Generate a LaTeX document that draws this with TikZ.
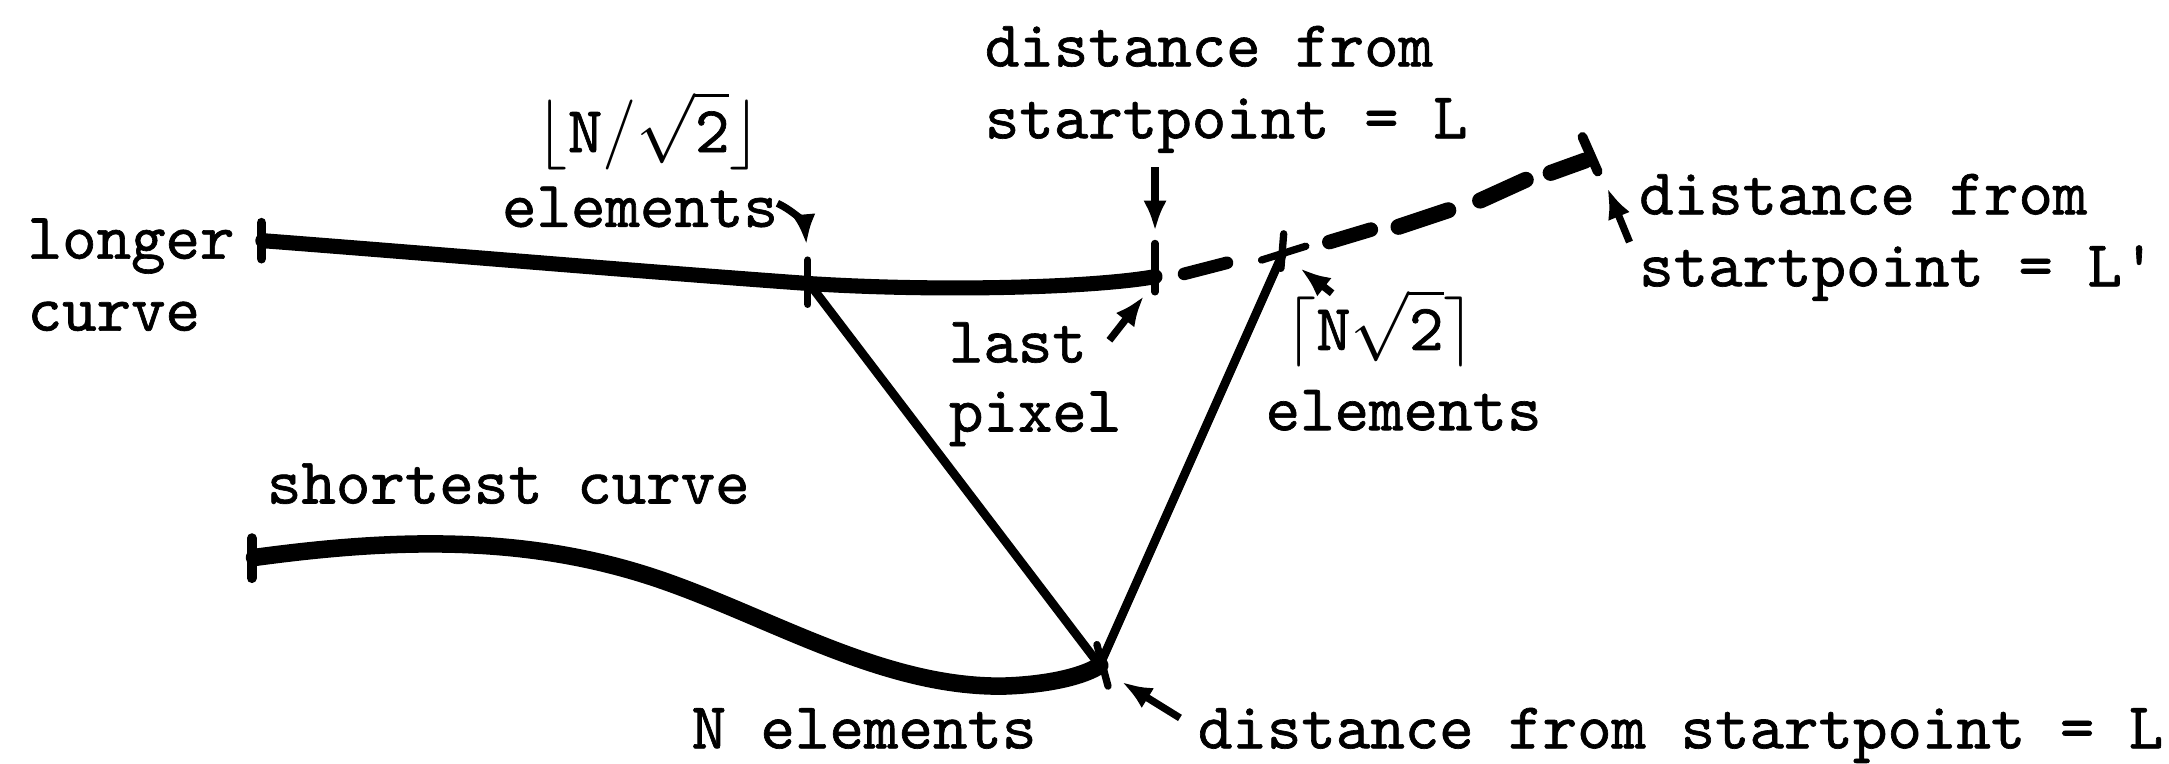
\documentclass[tikz,border=0pt]{standalone}
\usepackage{fontspec}
\setmonofont{lmmono10-regular.otf}[FakeBold=1.0]
\usetikzlibrary{arrows.meta}
\begin{document}
\begin{tikzpicture}[x=0.01cm,y=-0.01cm,
  lbl/.style={anchor=base west,inner sep=0pt,outer sep=0pt,font=\ttfamily\fontsize{13.5}{14.8}\selectfont},
  heavy/.style={line width=3.1pt,line cap=round,line join=round},
  heavier/.style={line width=3.6pt,line cap=round,line join=round},
  thinln/.style={line width=1.8pt,line cap=round,line join=round},
  tickln/.style={line width=1.5pt,line cap=round},
  ptr/.style={line width=1.5pt,-{Latex[length=0.22cm,width=0.17cm]}},
  dsh/.style={line width=3.3pt,line cap=round}]
\useasboundingbox (0,0) rectangle (1568,552);

% key points
\coordinate (A0) at (190,174);
\coordinate (A1) at (585,205);
\coordinate (A2) at (835,200);
\coordinate (S) at (927,184);
\coordinate (D) at (1146,116);
\coordinate (B0) at (184,403);
\coordinate (J) at (795,481);

% longer curve
\draw[heavy] (A0) .. controls (320,184) and (460,196) .. (A1) .. controls (680,211) and (790,208) .. (A2);
\draw[tickln,line width=2pt] (189,161) -- (189,187);
\draw[tickln] (584,188) -- (584,220);
\draw[tickln] (835,176) -- (835,211);

% dashed extension
\draw[line width=2.6pt,line cap=round] (856,198) -- (887,190);
\draw[line width=3pt,line cap=round] (961,175) -- (991,166);
\draw[dsh] (1011,164) -- (1047,152);
\draw[dsh] (1070,145) -- (1103,130);
\draw[dsh] (1121,125) -- (D);
\draw[tickln,line width=2pt] (1144,99) -- (1155,124);

% star
\draw[tickln] (928,169) -- (926,194);
\draw[tickln] (912,188) -- (944,178);

% connecting straight lines
\draw[thinln] (A1) -- (J) -- (S);

% shortest curve
\draw[heavier] (B0) .. controls (280,390) and (380,385) .. (480,420)
  .. controls (560,448) and (640,497) .. (725,496)
  .. controls (760,495) and (785,488) .. (J);
\draw[tickln,line width=2pt] (182,389) -- (182,418);
\draw[tickln] (793,466) -- (801,496);

% labels
\node[lbl] (lg1) at (20,187) {longer};
\node[lbl] (lg2) at (20,239) {curve};
\node[lbl] (fl1) at (388,110) {$\lfloor\mathtt{N}/\sqrt{\mathtt{2}}\rfloor$};
\node[lbl] (fl2) at (363,164) {elements};
\node[lbl] (tp1) at (712,48) {distance from};
\node[lbl] (tp2) at (712,100) {startpoint = L};
\node[lbl] (lp1) at (686,262) {last};
\node[lbl] (lp2) at (686,312) {pixel};
\node[lbl] (cl1) at (929,253) {$\lceil\mathtt{N}\sqrt{\mathtt{2}}\rceil$};
\node[lbl] (cl2) at (915,311) {elements};
\node[lbl] (rt1) at (1185,155) {distance from};
\node[lbl] (rt2) at (1185,207) {startpoint = L'};
\node[lbl] (sh) at (193,364) {shortest curve};
\node[lbl] (ne) at (500,541) {N elements};
\node[lbl] (bt) at (866,541) {distance from startpoint = L};

% pointer arrows
\coordinate (t1) at (562,147); \coordinate (h1) at (583,177);
\coordinate (t2) at (835,121); \coordinate (h2) at (835,167);
\coordinate (t3) at (802,246); \coordinate (h3) at (827,214);
\coordinate (t4) at (963,212); \coordinate (h4) at (940,194);
\coordinate (t5) at (1178,175); \coordinate (h5) at (1162,136);
\coordinate (t6) at (853,519); \coordinate (h6) at (811,493);
\draw[ptr] (t1) to[bend left=30] (h1);
\draw[ptr] (t2) -- (h2);
\draw[ptr] (t3) -- (h3);
\draw[ptr] (t4) -- (h4);
\draw[ptr] (t5) -- (h5);
\draw[ptr] (t6) -- (h6);
\end{tikzpicture}
\end{document}
